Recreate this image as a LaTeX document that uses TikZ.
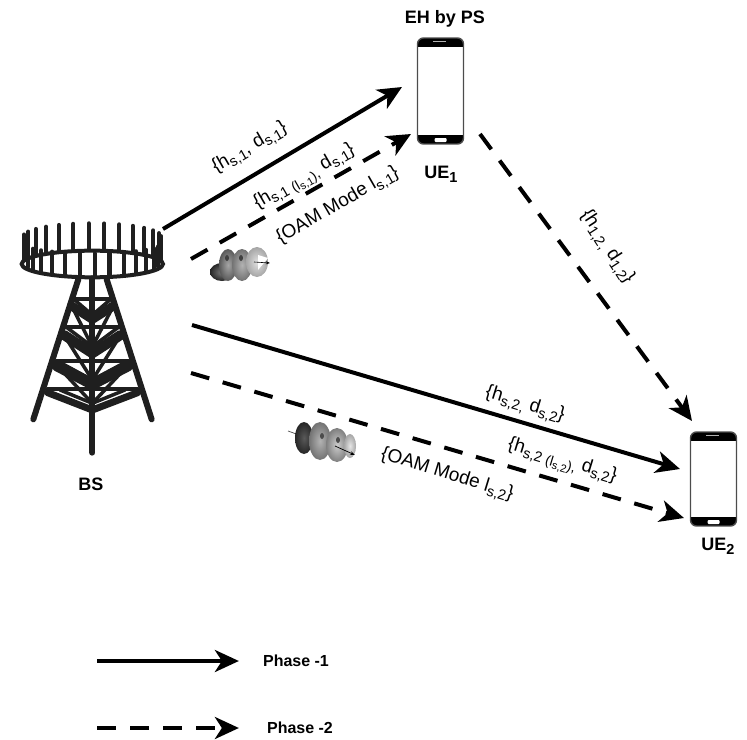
\documentclass[tikz,border=0pt]{standalone}
\usepackage{fontspec}
\setmainfont{Liberation Sans}
\usetikzlibrary{arrows.meta, positioning}
\newcommand{\sbs}[1]{\raisebox{-0.4ex}{\fontsize{14.5}{15}\selectfont #1}}
\newcommand{\ssbs}[1]{\raisebox{-0.05ex}{\fontsize{14}{15}\selectfont #1}}
\newcommand{\tsbs}[1]{\raisebox{-0.3ex}{\fontsize{11}{12}\selectfont #1}}
\tikzset{
  phase1/.style={line width=4pt, black, -{Stealth[length=24pt, width=22pt, inset=7pt]}},
  phase2/.style={line width=4pt, black, dash pattern=on 19pt off 14pt, -{Stealth[length=24pt, width=22pt, inset=7pt]}},
  boldlabel/.style={font=\fontsize{18}{20}\selectfont\bfseries, inner sep=0pt},
  legendlabel/.style={font=\fontsize{16}{18}\selectfont\bfseries, inner sep=0pt},
  linklabel/.style={font=\fontsize{19}{20}\selectfont, inner sep=0pt},
  towerline/.style={draw=black!88, line cap=round},
  phonebox/.style={draw=black!70, line width=1.4pt, rounded corners=6pt, minimum width=46pt, inner sep=0pt,
    path picture={
      \fill[black, sharp corners] (path picture bounding box.north west) rectangle ([yshift=-9pt]path picture bounding box.north east);
      \fill[black, sharp corners] (path picture bounding box.south west) rectangle ([yshift=9pt]path picture bounding box.south east);
      \fill[white, rounded corners=1pt] ([xshift=-6pt, yshift=2pt]path picture bounding box.south) rectangle ([xshift=6pt, yshift=6pt]path picture bounding box.south);
      \fill[black!30, sharp corners] ([xshift=-8pt, yshift=-2.5pt]path picture bounding box.north) rectangle ([xshift=5pt, yshift=-3.5pt]path picture bounding box.north);
    }},
}
\begin{document}
\begin{tikzpicture}[x=1pt, y=-1pt]
  \useasboundingbox (0,0) rectangle (747,739);

  % Tower, in a scope at 1/3 scale
  \begin{scope}[x=0.3333pt, y=-0.3333pt, yshift=-200pt]
    % Back spikes
    \foreach \a in {2,15,...,178} {
      \draw[towerline, line width=4.2pt] ({277+207*cos(\a)}, {190-38*sin(\a)}) -- ({277+207*cos(\a)}, {110-40*sin(\a)});
    }
    % Ring
    \draw[draw=black!88, line width=4pt, fill=white] (277,192) ellipse (212 and 40);
    % Front spikes
    \foreach \a in {10,23,...,175} {
      \draw[towerline, line width=4.2pt] ({277+200*cos(\a)}, {192+38*sin(\a)}) -- ({277+200*cos(\a)}, {135+25*sin(\a)});
    }
    % Legs
    \draw[towerline, line width=6pt] (235,238) -- (100,658);
    \draw[towerline, line width=6pt] (320,238) -- (455,658);
    \draw[towerline, line width=6pt] (277,235) -- (277,758);
    % Cross pieces
    \draw[towerline, line width=4pt] (222,298) -- (332,298);
    \draw[towerline, line width=4pt] (197,380) -- (358,380);
    \draw[towerline, line width=4pt] (170,482) -- (385,482);
    \draw[towerline, line width=4pt] (143,568) -- (413,568);
    % Chevrons
    \draw[towerline, line width=7pt, line join=round] (143,578) -- (277,630) -- (413,578);
    \draw[towerline, line width=11pt, line join=round] (170,497) -- (277,553) -- (385,497);
    \draw[towerline, line width=10pt, line join=round] (192,405) -- (277,460) -- (362,405);
    \draw[towerline, line width=9pt, line join=round] (215,318) -- (277,358) -- (340,318);
    \draw[towerline, line width=3.5pt, line join=round] (180,570) -- (277,610) -- (375,570);
    \draw[towerline, line width=3.5pt, line join=round] (222,298) -- (277,345) -- (332,298);
    \draw[towerline, line width=3.5pt, line join=round] (197,380) -- (277,440) -- (358,380);
    \draw[towerline, line width=3.5pt, line join=round] (170,482) -- (277,540) -- (385,482);
    \draw[towerline, line width=3.5pt] (215,318) -- (277,440) -- (340,318);
    \draw[towerline, line width=3.5pt] (192,405) -- (277,540) -- (362,405);
    \draw[towerline, line width=3.5pt] (170,495) -- (277,610) -- (385,495);
  \end{scope}

  % OAM beam 1
  \shade[inner color=black!50, outer color=black!85] (222,272) ellipse (12 and 9);
  \shade[inner color=black!35, outer color=black!65] (228,265) ellipse (9 and 16);
  \shade[inner color=black!30, outer color=black!55] (242,265) ellipse (10 and 16);
  \shade[inner color=black!12, outer color=black!35] (257,262) ellipse (11 and 15);
  \fill[black!75] (227,258) ellipse (2 and 3);
  \fill[black!75] (241,258) ellipse (2 and 3);
  \fill[white] (258,255) -- (268,258) -- (258,270) -- cycle;
  \draw[black, -{Stealth[length=4pt]}, line width=0.6pt] (254,262) -- (270,263);

  % OAM beam 2
  \draw[black!70, line width=0.7pt] (288,431) -- (302,436);
  \shade[inner color=black!65, outer color=black!85] (304,438) ellipse (9 and 16);
  \shade[inner color=black!30, outer color=black!55] (320,441) ellipse (11 and 19);
  \shade[inner color=black!20, outer color=black!50] (337,445) ellipse (11 and 17);
  \shade[inner color=black!10, outer color=black!35] (350,446) ellipse (6 and 12);
  \fill[black!70] (322,436) ellipse (2 and 3);
  \fill[black!70] (338,440) ellipse (2 and 3);
  \draw[black, -{Stealth[length=5pt]}, line width=0.7pt] (335,446) -- (355,455);

  % User phones
  \node[phonebox, minimum height=106pt] (ue1) at (440.5,91) {};
  \node[phonebox, minimum height=94pt] (ue2) at (713.5,479) {};

  % Labels of the nodes
  \node[boldlabel] (ehps) at (445,19) {EH by PS};
  \node[boldlabel] (ue1lab) at (441,174) {UE\sbs{1}};
  \node[boldlabel] (ue2lab) at (718,546) {UE\sbs{2}};
  \node[boldlabel] (bslab) at (91,484) {BS};

  % Free ends of the links
  \coordinate (bsa) at (163,229);
  \coordinate (bsb) at (191,259);
  \coordinate (bsc) at (192,325);
  \coordinate (bsd) at (191,373);
  \coordinate (uea) at (402,87);
  \coordinate (ueb) at (411,134);
  \coordinate (uec) at (480,134);
  \coordinate (ued) at (692,421);
  \coordinate (uee) at (680,469);
  \coordinate (uef) at (684,518);

  % Links
  \draw[phase1] (bsa) -- (uea);
  \draw[phase2] (bsb) -- (ueb);
  \draw[phase2] (uec) -- (ued);
  \draw[phase1] (bsc) -- (uee);
  \draw[phase2] (bsd) -- (uef);

  % Link labels
  \node[linklabel, rotate=30] (l1) at (250,148) {\{h\sbs{s,1}, d\sbs{s,1}\}};
  \node[linklabel, rotate=30] (l2) at (305,178) {\{h\sbs{s,1 \ssbs{(l\tsbs{s,1})},} d\sbs{s,1}\}};
  \node[linklabel, rotate=30] (l3) at (338,206) {\{OAM Mode l\sbs{s,1}\}};
  \node[linklabel, rotate=-57] (l4) at (607,247) {\{h\sbs{1,2,} d\sbs{1,2}\}};
  \node[linklabel, rotate=-17] (l5) at (525,405) {\{h\sbs{s,2,} d\sbs{s,2}\}};
  \node[linklabel, rotate=-17] (l6) at (562,462) {\{h\sbs{s,2 \ssbs{(l\tsbs{s,2})},} d\sbs{s,2}\}};
  \node[linklabel, rotate=-17] (l7) at (447,475) {\{OAM Mode l\sbs{s,2}\}};

  % Legend
  \node[legendlabel] (ph1) at (296,661) {Phase -1};
  \node[legendlabel] (ph2) at (300,728) {Phase -2};
  \coordinate (lega) at (97,661);
  \coordinate (legb) at (97,728);
  \draw[phase1] (lega) -- ([xshift=-24pt]ph1.west);
  \draw[phase2] (legb) -- ([xshift=-28pt]ph2.west);
\end{tikzpicture}
\end{document}
